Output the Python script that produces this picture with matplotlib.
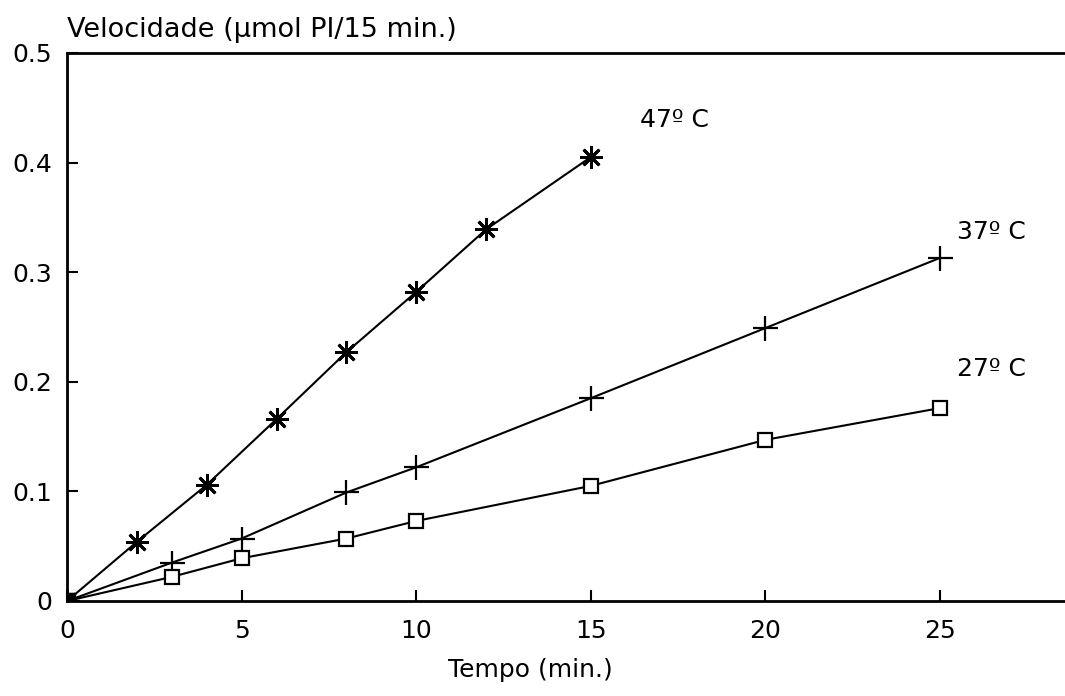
import matplotlib
matplotlib.use("Agg")
import matplotlib.pyplot as plt
from matplotlib.ticker import FuncFormatter

# Dados
t_47 = [0, 2, 4, 6, 8, 10, 12, 15]
v_47 = [0, 0.054, 0.106, 0.166, 0.227, 0.282, 0.339, 0.405]

t_37 = [0, 3, 5, 8, 10, 15, 20, 25]
v_37 = [0, 0.035, 0.057, 0.099, 0.122, 0.185, 0.249, 0.313]

t_27 = [0, 3, 5, 8, 10, 15, 20, 25]
v_27 = [0, 0.022, 0.039, 0.057, 0.073, 0.105, 0.147, 0.176]

x_ticks = [0, 5, 10, 15, 20, 25]
y_ticks = [0, 0.1, 0.2, 0.3, 0.4, 0.5]

plt.rcParams['font.family'] = ['DejaVu Sans']

fig = plt.figure(figsize=(10.65, 6.96), dpi=100)
ax = fig.add_axes([0.063, 0.1365, 0.937, 0.7875])

ax.plot(t_47, v_47, color='black', lw=1.5, marker=(8, 2, 0), ms=16, mew=2)
ax.plot(t_37, v_37, color='black', lw=1.5, marker='+', ms=18, mew=1.6)
ax.plot(t_27, v_27, color='black', lw=1.5, marker='s', ms=10, mfc='white', mew=1.6)
# ponto de origem comum
ax.plot([0], [0], marker='s', ms=11, color='black')

fs = 18
ax.text(16.4, 0.439, "47º C", fontsize=fs, va='center', ha='left')
ax.text(25.5, 0.337, "37º C", fontsize=fs, va='center', ha='left')
ax.text(25.5, 0.212, "27º C", fontsize=fs, va='center', ha='left')

ax.set_xlim(0, 28.58)
ax.set_ylim(0, 0.5)
ax.set_xticks(x_ticks)
ax.set_yticks(y_ticks)
ax.yaxis.set_major_formatter(FuncFormatter(lambda v, p: "0" if v == 0 else f"{v:.1f}"))

ax.spines['right'].set_visible(False)
for s in ['left', 'bottom', 'top']:
    ax.spines[s].set_linewidth(2)
ax.tick_params(direction='in', length=8, width=1.5, labelsize=fs)
ax.tick_params(axis='x', pad=13)
ax.tick_params(axis='y', pad=11)

fig.text(0.063, 0.957, "Velocidade (µmol PI/15 min.)", fontsize=19.5, va='center', ha='left')
fig.text(0.498, 0.037, "Tempo (min.)", fontsize=fs, va='center', ha='center')

fig.savefig("out.png", dpi=100)
